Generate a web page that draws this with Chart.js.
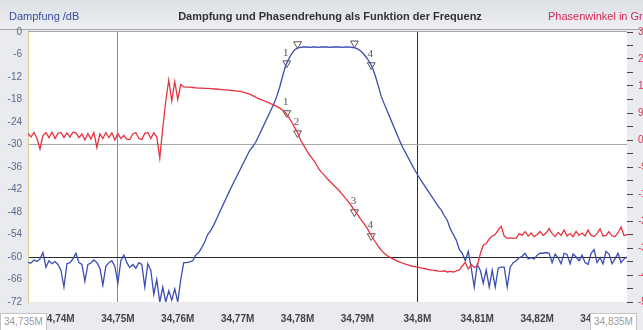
<!DOCTYPE html>
<html lang="de">
<head>
<meta charset="UTF-8">
<title>Dampfung und Phasendrehung</title>
<style>
  body { margin: 0; background: #e9ebee; }
  #wrap { position: relative; width: 643px; height: 330px; overflow: hidden; font-family: "Liberation Sans", Arial, sans-serif; }
  #wrap canvas { position: absolute; left: 0; top: 0; }
  .hdr { position: absolute; top: 10px; font-size: 11px; white-space: nowrap; }
  #title { left: 0; width: 660px; text-align: center; font-weight: bold; color: #333; }
  #lblLeft { left: 9px; color: #3a4c9c; }
  #lblRight { left: 548px; color: #d3285a; }
  .corner { position: absolute; top: 313px; height: 16px; line-height: 16px; font-size: 10px; color: #9a9a9a;
            background: #fff; border: 1px solid #c4c4c4; padding: 0 3px; }
</style>
</head>
<body>
<div id="wrap">
  <canvas id="chart" width="643" height="330"></canvas>
  <div class="hdr" id="lblLeft">Dampfung /dB</div>
  <div class="hdr" id="title">Dampfung und Phasendrehung als Funktion der Frequenz</div>
  <div class="hdr" id="lblRight">Phasenwinkel in Grad</div>
  <div class="corner" style="left:0;">34,735M</div>
  <div class="corner" style="left:590px;">34,835M</div>
</div>

<script src="https://cdn.jsdelivr.net/npm/chart.js"></script>
<script>
// frequency grid in MHz (0.5 kHz steps)
const fStart = 34.735;
const fStep = 0.0005;

const xTicks = [34.74, 34.75, 34.76, 34.77, 34.78, 34.79, 34.80, 34.81, 34.82, 34.83];

// Dampfung in dB (left axis)
const blueDb = [
  -61.5,-61.6,-60.8,-61.2,-60.5,-58.8,-62.7,-61.0,-61.8,-61.2,
  -62.0,-63.5,-68.0,-61.8,-61.5,-60.5,-59.0,-61.5,-62.0,-66.5,
  -62.0,-61.6,-60.8,-61.5,-63.0,-67.5,-62.5,-61.5,-61.0,-62.5,
  -67.0,-61.0,-59.5,-61.5,-62.8,-62.0,-63.0,-61.5,-62.0,-68.0,
  -61.8,-63.5,-70.0,-66.0,-72.0,-68.0,-72.0,-69.0,-71.5,-68.5,
  -72.0,-66.0,-61.5,-61.5,-61.3,-61.0,-59.5,-58.8,-57.5,-56.0,
  -54.0,-53.0,-51.5,-49.8,-48.0,-46.3,-44.6,-42.9,-41.2,-39.6,
  -38.0,-36.4,-34.8,-33.2,-31.6,-30.6,-29.4,-27.8,-26.1,-24.4,
  -22.7,-21.0,-19.3,-17.3,-14.8,-11.8,-9.0,-7.3,-5.8,-4.8,
  -4.3,-4.1,-4.0,-4.0,-4.1,-4.0,-4.0,-4.1,-4.0,-4.0,
  -4.0,-4.1,-4.0,-4.0,-4.0,-4.1,-4.0,-4.0,-4.1,-4.2,
  -4.5,-5.0,-5.8,-6.8,-8.0,-9.5,-11.8,-14.5,-17.3,-19.3,
  -21.2,-23.1,-25.0,-26.9,-28.8,-30.6,-32.1,-33.6,-35.1,-36.6,
  -38.0,-39.3,-40.5,-41.7,-42.9,-44.1,-45.3,-46.5,-47.5,-49.0,
  -50.2,-52.5,-54.0,-55.5,-58.0,-59.0,-61.0,-58.5,-63.0,-68.0,
  -62.0,-63.5,-67.0,-63.5,-68.0,-63.5,-68.0,-63.0,-62.7,-62.7,
  -68.0,-62.7,-61.5,-61.0,-60.2,-59.8,-59.0,-60.5,-60.2,-60.5,
  -59.5,-59.0,-59.0,-58.8,-59.0,-61.5,-59.2,-60.2,-61.8,-59.0,
  -59.3,-61.8,-59.2,-60.0,-61.0,-59.5,-61.5,-62.0,-59.0,-58.0,
  -61.5,-60.2,-61.8,-58.5,-59.2,-61.8,-60.5,-59.0,-61.5,-60.5,
  -60.0
];

// Phasenwinkel in Grad (right axis)
const redDeg = [
  22,10,25,5,-30,15,25,8,26,5,
  22,25,8,24,10,26,24,8,20,0,
  22,3,25,-25,20,5,25,8,24,0,
  22,5,15,2,2,20,25,5,2,22,
  25,5,24,10,-60,40,130,200,130,195,
  135,185,177,176,176,175,174,173,173,172,
  172,171,170,170,169,168,167,166,165,164,
  163,162,159,156,153,148,143,138,134,130,
  126,121,117,112,107,99,90,77,60,42,
  25,0,-17,-34,-50,-62,-77,-95,-108,-118,
  -130,-140,-150,-160,-170,-182,-194,-206,-220,-234,
  -248,-263,-276,-290,-308,-325,-340,-355,-368,-378,
  -386,-392,-397,-402,-406,-410,-414,-417,-420,-422,
  -424,-426,-428,-430,-432,-434,-435,-437,-438,-436,
  -440,-438,-440,-436,-433,-420,-408,-430,-415,-425,
  -420,-380,-350,-345,-330,-320,-315,-300,-288,-320,
  -328,-326,-328,-327,-312,-318,-305,-320,-310,-322,
  -315,-305,-318,-310,-295,-312,-322,-308,-318,-300,
  -320,-312,-322,-305,-318,-310,-320,-300,-318,-322,
  -312,-296,-320,-318,-305,-320,-322,-310,-290,-318,
  -316
];

// markers
const blueMarkF = [34.7782, 34.7800, 34.7895, 34.7923];
const blueMarkDb = [-8.3, -3.2, -3.0, -8.8];
const blueMarkLbl = ['1', '', '', '4'];
const redMarkF = [34.7782, 34.7800, 34.7895, 34.7923];
const redMarkDeg = [90, 23, -240, -320];
const redMarkLbl = ['1', '2', '3', '4'];

const freq = blueDb.map((_, i) => +(fStart + i * fStep).toFixed(4));

const near = (a, b) => Math.abs(a - b) < 1e-6;

const bgPlugin = {
  id: 'bg',
  beforeDraw(chart) {
    const { ctx, chartArea: a, width } = chart;
    ctx.save();
    ctx.fillStyle = '#e9ebee';
    ctx.fillRect(0, 0, width, chart.height);
    const g = ctx.createLinearGradient(0, 0, 0, 30);
    g.addColorStop(0, '#dcdfe4');
    g.addColorStop(1, '#eef0f2');
    ctx.fillStyle = g;
    ctx.fillRect(0, 0, width, 30);
    ctx.fillStyle = '#ffffff';
    ctx.fillRect(a.left, a.top, a.right - a.left, a.bottom - a.top);
    ctx.strokeStyle = '#a8a8a8';
    ctx.lineWidth = 1;
    ctx.beginPath();
    ctx.moveTo(0, 29.5); ctx.lineTo(width, 29.5);
    ctx.moveTo(a.left, a.top - 0.5); ctx.lineTo(a.right, a.top - 0.5);
    ctx.stroke();
    ctx.restore();
  }
};

const markLabelPlugin = {
  id: 'markLabels',
  afterDatasetsDraw(chart) {
    const ctx = chart.ctx;
    ctx.save();
    ctx.font = '11px "Liberation Serif", serif';
    ctx.fillStyle = '#555';
    ctx.textAlign = 'center';
    ctx.textBaseline = 'bottom';
    chart.data.datasets.forEach((ds, di) => {
      if (!ds.markLabels) return;
      const meta = chart.getDatasetMeta(di);
      meta.data.forEach((pt, i) => {
        const t = ds.markLabels[i];
        if (t) ctx.fillText(t, pt.x - 1, pt.y - 5);
      });
    });
    ctx.restore();
  }
};

new Chart(document.getElementById('chart'), {
  type: 'line',
  data: {
    datasets: [
      {
        label: 'Phasenwinkel',
        data: freq.map((f, i) => ({ x: f, y: redDeg[i] })),
        borderColor: '#e8323e',
        borderWidth: 1.3,
        pointRadius: 0,
        tension: 0,
        yAxisID: 'y1'
      },
      {
        label: 'Dampfung',
        data: freq.map((f, i) => ({ x: f, y: blueDb[i] })),
        borderColor: '#3b4db3',
        borderWidth: 1.3,
        pointRadius: 0,
        tension: 0,
        yAxisID: 'y'
      },
      {
        label: 'Marker Dampfung',
        data: blueMarkF.map((f, i) => ({ x: f, y: blueMarkDb[i] })),
        showLine: false,
        pointStyle: 'triangle',
        rotation: 180,
        pointRadius: 4.5,
        pointBorderWidth: 1,
        pointBorderColor: '#555',
        pointBackgroundColor: 'rgba(255,255,255,0)',
        markLabels: blueMarkLbl,
        yAxisID: 'y'
      },
      {
        label: 'Marker Phase',
        data: redMarkF.map((f, i) => ({ x: f, y: redMarkDeg[i] })),
        showLine: false,
        pointStyle: 'triangle',
        rotation: 180,
        pointRadius: 4.5,
        pointBorderWidth: 1,
        pointBorderColor: '#555',
        pointBackgroundColor: 'rgba(255,255,255,0)',
        markLabels: redMarkLbl,
        yAxisID: 'y1'
      }
    ]
  },
  options: {
    responsive: false,
    animation: false,
    layout: { padding: { top: 32, left: 0, right: 0, bottom: 0 } },
    plugins: {
      legend: { display: false },
      tooltip: { enabled: false },
      title: { display: false }
    },
    scales: {
      x: {
        type: 'linear',
        position: 'bottom',
        min: 34.735,
        max: 34.835,
        afterBuildTicks: s => { s.ticks = xTicks.map(v => ({ value: v })); },
        afterFit: s => { s.height = 28; },
        ticks: {
          autoSkip: false,
          maxRotation: 0,
          padding: 11,
          color: '#444',
          font: { family: 'Liberation Sans', size: 10, weight: 'bold' },
          callback: v => String(+v.toFixed(2)).replace('.', ',') + 'M'
        },
        grid: {
          drawTicks: false,
          color: c => near(c.tick.value, 34.75) ? '#8c8c8c' : (near(c.tick.value, 34.8) ? '#2e2e2e' : 'rgba(0,0,0,0)')
        },
        border: { display: false }
      },
      y: {
        position: 'left',
        min: -72,
        max: 0,
        afterFit: s => { s.width = 28; },
        ticks: {
          stepSize: 6,
          padding: 6,
          color: '#5a6a8c',
          font: { family: 'Liberation Sans', size: 10 }
        },
        grid: {
          drawTicks: false,
          color: c => c.tick.value === -30 ? '#a6a6a6' : (c.tick.value === -60 ? '#2a2a2a' : 'rgba(0,0,0,0)')
        },
        border: { color: '#d4cd92', width: 1 }
      },
      y1: {
        position: 'right',
        min: -540,
        max: 360,
        afterFit: s => { s.width = 16; },
        ticks: {
          stepSize: 45,
          autoSkip: false,
          padding: 5,
          color: '#e0305a',
          font: { family: 'Liberation Sans', size: 10 },
          callback: v => (v % 90 === 0 ? v : '')
        },
        grid: {
          drawOnChartArea: false,
          tickLength: 6,
          tickColor: '#444'
        },
        border: { display: false }
      }
    }
  },
  plugins: [bgPlugin, markLabelPlugin]
});
</script>
</body>
</html>
